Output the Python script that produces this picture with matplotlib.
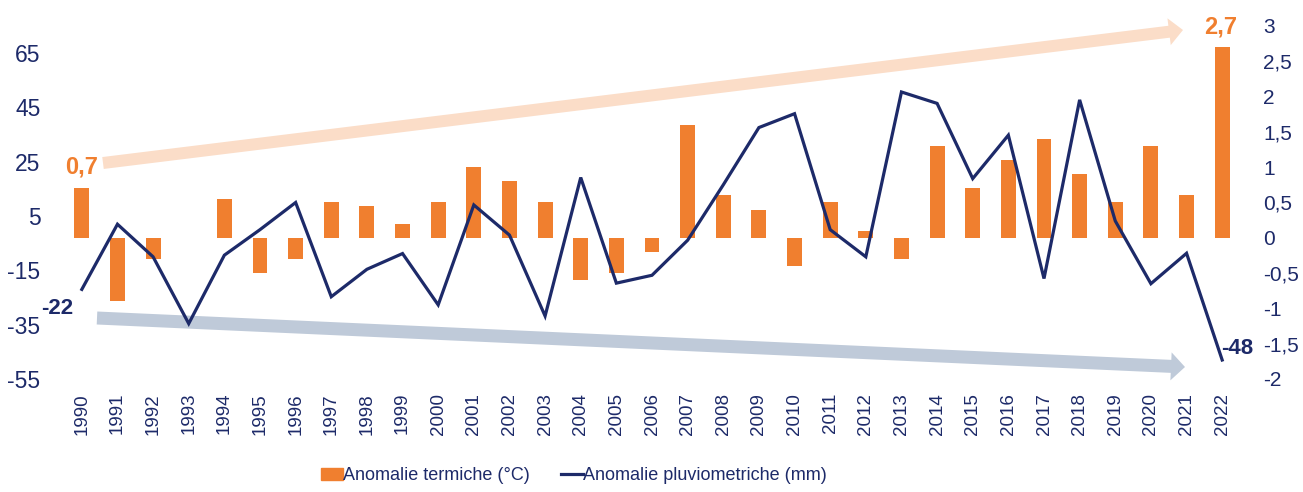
import matplotlib
matplotlib.use("Agg")
import matplotlib.pyplot as plt
from matplotlib.patches import FancyArrow, Patch
from matplotlib.lines import Line2D

plt.rcParams["font.family"] = ["Liberation Sans Narrow", "Liberation Sans", "DejaVu Sans"]

years = list(range(1990, 2023))
# temperature anomaly (°C), right axis
temp_anom = [0.7, -0.9, -0.3, 0.0, 0.55, -0.5, -0.3, 0.5, 0.45, 0.2,
             0.5, 1.0, 0.8, 0.5, -0.6, -0.5, -0.2, 1.6, 0.6, 0.4,
             -0.4, 0.5, 0.1, -0.3, 1.3, 0.7, 1.1, 1.4, 0.9, 0.5,
             1.3, 0.6, 2.7]
# precipitation anomaly (mm), left axis
rain_anom = [-22, 2, -10, -34.6, -9.4, 0, 10, -24.7, -14.6, -8.8,
             -27.7, 9.1, -2, -31.8, 19.2, -19.7, -16.8, -3.9, 16.5, 37.6,
             42.7, 0, -10, 50.7, 46.5, 18.8, 34.8, -18, 47.8, 3.2,
             -19.9, -8.7, -48]
left_ticks = [-55, -35, -15, 5, 25, 45, 65]
right_ticks = [-2, -1.5, -1, -0.5, 0, 0.5, 1, 1.5, 2, 2.5, 3]

ORANGE = "#F07F2F"
NAVY = "#1D2A69"
W, H = 1303, 492


def fmt_it(v):
    s = f"{v:g}"
    return s.replace(".", ",")


fig = plt.figure(figsize=(W / 100, H / 100), dpi=100)

# background layer for the trend arrows, in pixel units
bg = fig.add_axes([0, 0, 1, 1], zorder=0)
bg.set_xlim(0, W)
bg.set_ylim(H, 0)
bg.axis("off")
bg.add_patch(FancyArrow(103, 163, 1183 - 103, 30 - 163, width=12,
                        head_width=27, head_length=14,
                        length_includes_head=True, color="#FBDDC8", lw=0))
bg.add_patch(FancyArrow(97, 318, 1185 - 97, 367 - 318, width=13,
                        head_width=28, head_length=14,
                        length_includes_head=True, color="#BFCAD9", lw=0))

rect = [64 / W, 1 - 379 / H, (1240 - 64) / W, (379 - 26) / H]
ax = fig.add_axes(rect, zorder=2)
ax2 = ax.twinx()
ax2.set_zorder(1)
ax.patch.set_visible(False)
ax2.patch.set_visible(False)

x = list(range(len(years)))
ax2.bar(x, temp_anom, width=0.42, color=ORANGE, zorder=2)
ax.plot(x, rain_anom, color=NAVY, lw=2.3, solid_joinstyle="miter", zorder=3)

ax.set_xlim(-0.5, len(years) - 0.5)
ax.set_ylim(-55, 75)
ax2.set_ylim(-2, 3)

ax.set_yticks(left_ticks)
ax.set_yticklabels([fmt_it(v) for v in left_ticks])
ax2.set_yticks(right_ticks)
ax2.set_yticklabels([fmt_it(v) for v in right_ticks])
ax.set_xticks(x)
ax.set_xticklabels([str(y) for y in years], rotation=90)

ax.tick_params(axis="y", length=0, pad=17, labelsize=16.5, labelcolor=NAVY)
ax2.tick_params(axis="y", length=0, pad=16.5, labelsize=15, labelcolor=NAVY)
ax.tick_params(axis="x", length=0, pad=10, labelsize=13.5, labelcolor=NAVY)
for a in (ax, ax2):
    for sp in a.spines.values():
        sp.set_visible(False)

# value labels at the first and last year
bold = dict(fontweight="bold", ha="center", va="center",
            textcoords="offset pixels")
ax2.annotate(fmt_it(temp_anom[0]), (x[0], temp_anom[0]), xytext=(0, 21),
             color=ORANGE, fontsize=17, **bold)
ax2.annotate(fmt_it(temp_anom[-1]), (x[-1], temp_anom[-1]), xytext=(-2, 20),
             color=ORANGE, fontsize=17, **bold)
ax.annotate(f"{rain_anom[0]:.0f}", (x[0], rain_anom[0]), xytext=(-25, -19),
            color=NAVY, fontsize=16, **bold)
ax.annotate(f"{rain_anom[-1]:.0f}", (x[-1], rain_anom[-1]), xytext=(15, 11),
            color=NAVY, fontsize=16, **bold)

handles = [Patch(color=ORANGE), Line2D([], [], color=NAVY, lw=2.3)]
labels = ["Anomalie termiche (°C)", "Anomalie pluviometriche (mm)"]
fig.legend(handles, labels, loc="center", bbox_to_anchor=(574 / W, 1 - 476 / H),
           ncol=2, frameon=False, fontsize=13, labelcolor=NAVY,
           handlelength=1.2, handleheight=0.65, handletextpad=0.05,
           columnspacing=1.7)

fig.savefig("out.png", dpi=100, facecolor="white")
